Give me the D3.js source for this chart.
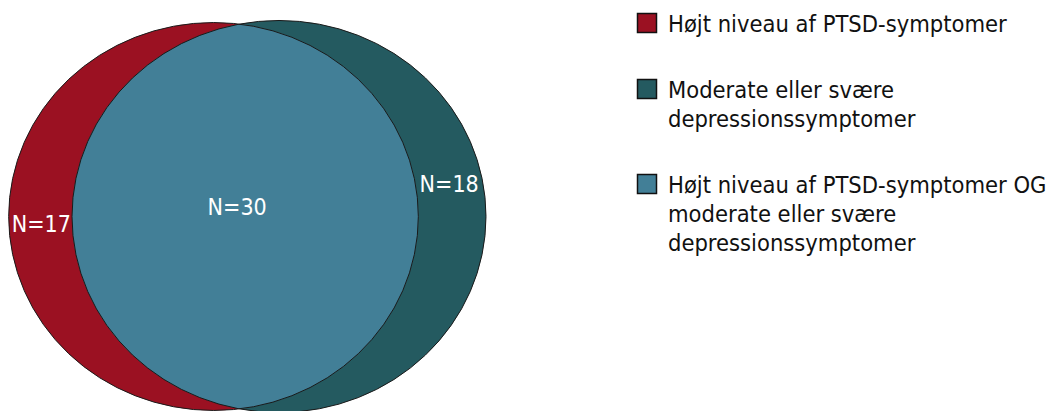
<!DOCTYPE html>
<meta charset="utf-8">
<style>
body { margin: 0; background: #fff; }
.lbl { font-family: "DejaVu Sans Condensed", "DejaVu Sans", sans-serif; font-stretch: condensed; }
</style>
<body>
<script src="https://d3js.org/d3.v7.min.js"></script>
<script>

// sets and region counts
var setNames = ["PTSD", "Depression"];
var onlyCounts = [17, 18];      // only PTSD, only depression
var bothCount = 30;             // both
var setColors = ["#9B1122", "#245A60"];
var bothColor = "#427F97";

// legend
var legendLabels = [
	["Højt niveau af PTSD-symptomer"],
	["Moderate eller svære", "depressionssymptomer"],
	["Højt niveau af PTSD-symptomer OG", "moderate eller svære", "depressionssymptomer"]
];
var legendColors = [setColors[0], setColors[1], bothColor];

var width = 1054, height = 411;

var svg = d3.select("body").append("svg")
	.attr("width", width)
	.attr("height", height);

// totals per set -> radius via sqrt scale (area ~ count)
var totals = onlyCounts.map(function(c) { return c + bothCount; });
var rScale = d3.scaleSqrt()
	.domain([0, d3.max(totals)])
	.range([0, 207]);
var aspect = 0.947;
var cy = 216.5;
var centers = [213.5, 279];

var sets = setNames.map(function(n, i) {
	return { name: n, cx: centers[i], rx: rScale(totals[i]), ry: rScale(totals[i]) * aspect };
});

// clip for intersection
svg.append("defs").append("clipPath")
	.attr("id", "clipA")
	.append("ellipse")
		.attr("cx", sets[0].cx).attr("cy", cy)
		.attr("rx", sets[0].rx).attr("ry", sets[0].ry);

var g = svg.append("g");

g.selectAll(".set")
	.data(sets)
	.enter().append("ellipse")
		.attr("class", "set")
		.attr("cx", function(d) { return d.cx; })
		.attr("cy", cy)
		.attr("rx", function(d) { return d.rx; })
		.attr("ry", function(d) { return d.ry; })
		.attr("fill", function(d, i) { return setColors[i]; });

g.append("ellipse")
	.attr("clip-path", "url(#clipA)")
	.attr("cx", sets[1].cx).attr("cy", cy)
	.attr("rx", sets[1].rx).attr("ry", sets[1].ry)
	.attr("fill", bothColor);

// outlines on top
g.selectAll(".outline")
	.data(sets)
	.enter().append("ellipse")
		.attr("class", "outline")
		.attr("cx", function(d) { return d.cx; })
		.attr("cy", cy)
		.attr("rx", function(d) { return d.rx; })
		.attr("ry", function(d) { return d.ry; })
		.attr("fill", "none")
		.attr("stroke", "#1a1a1a")
		.attr("stroke-width", 1);

// region labels
var leftA = sets[0].cx - sets[0].rx, rightA = sets[0].cx + sets[0].rx;
var leftB = sets[1].cx - sets[1].rx, rightB = sets[1].cx + sets[1].rx;
var regions = [
	{ n: onlyCounts[0], x: (leftA + leftB) / 2 + 1, y: cy + 15 },
	{ n: bothCount, x: (leftB + rightA) / 2 - 8, y: cy - 2 },
	{ n: onlyCounts[1], x: (rightA + rightB) / 2 - 3, y: cy - 25 }
];
g.selectAll(".region")
	.data(regions)
	.enter().append("text")
		.attr("class", "lbl")
		.attr("x", function(d) { return d.x; })
		.attr("y", function(d) { return d.y; })
		.attr("text-anchor", "middle")
		.attr("fill", "#fff")
		.style("font-size", "23px")
		.text(function(d) { return "N=" + d.n; });

// legend
var lineH = 29, itemGap = 37;
var ly = 32;
var legend = svg.append("g").attr("transform", "translate(637,0)");
legendLabels.forEach(function(lines, i) {
	var item = legend.append("g").attr("transform", "translate(0," + ly + ")");
	item.append("rect")
		.attr("x", 0.5).attr("y", -18.5)
		.attr("width", 19).attr("height", 19)
		.attr("fill", legendColors[i])
		.attr("stroke", "#111")
		.attr("stroke-width", 1.5);
	item.append("text")
		.attr("class", "lbl")
		.attr("x", 31)
		.attr("fill", "#111")
		.style("font-size", "23.5px")
		.selectAll("tspan")
		.data(lines)
		.enter().append("tspan")
			.attr("x", 31)
			.attr("y", function(d, j) { return j * lineH; })
			.text(function(d) { return d; });
	ly += lines.length * lineH + itemGap;
});

</script>
</body>
